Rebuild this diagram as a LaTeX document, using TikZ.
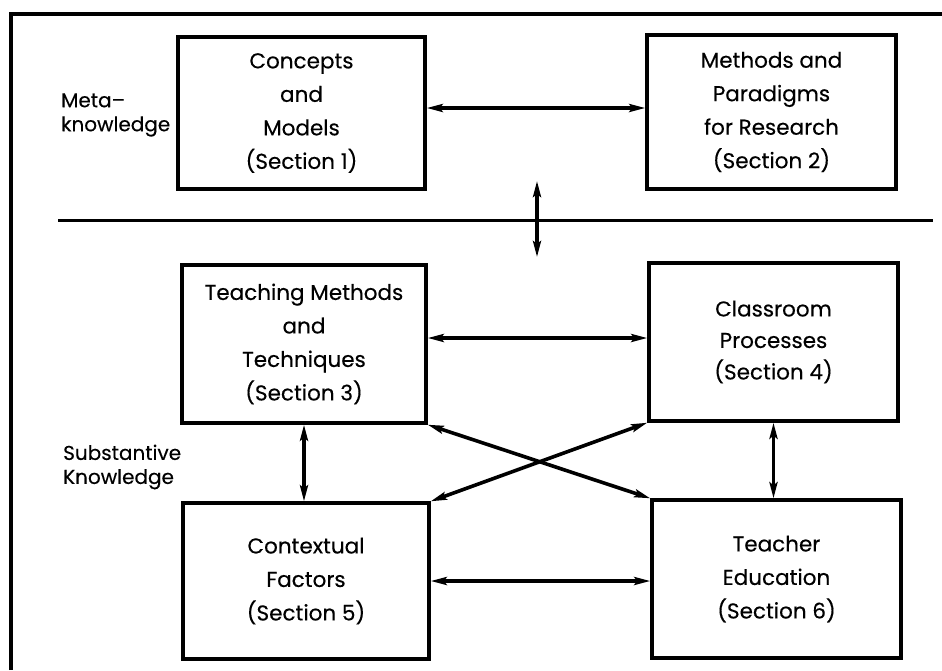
\documentclass[tikz,border=0pt]{standalone}
\usepackage{fontspec}
\setmainfont{Poppins}[FakeBold=0.3]
\usetikzlibrary{arrows.meta}
\tikzset{
  secbox/.style={draw, line width=3.4pt, align=center, inner sep=0pt,
    font=\fontsize{21.5}{33.5}\selectfont},
  sidelabel/.style={align=left, anchor=west, inner sep=0pt,
    font=\fontsize{20}{24}\selectfont},
  link/.style={line width=3.6pt,
    {Stealth[length=16pt,width=8pt,inset=3pt]}-{Stealth[length=16pt,width=8pt,inset=3pt]}},
  rule/.style={line width=3pt}
}
\begin{document}
\begin{tikzpicture}[x=1pt,y=-1pt]
\useasboundingbox (0,0) rectangle (942,670);
\fill[white] (0,0) rectangle (942,670);

% outer frame (left and top edges)
\draw[line width=3.4pt] (11,670) -- (11,14) -- (942,14);

% section boxes
\node[secbox, minimum width=247pt, minimum height=152pt] (b1) at (301.5,113)
  {Concepts\\and\\Models\\(Section 1)};
\node[secbox, minimum width=249pt, minimum height=154pt] (b2) at (771.5,112)
  {Methods and\\Paradigms\\for Research\\(Section 2)};
\node[secbox, minimum width=244pt, minimum height=158pt] (b3) at (304,344)
  {Teaching Methods\\and\\Techniques\\(Section 3)};
\node[secbox, minimum width=249pt, minimum height=158pt,
  font=\fontsize{21.5}{31.5}\selectfont] (b4) at (773.5,342)
  {Classroom\\Processes\\(Section 4)};
\node[secbox, minimum width=246pt, minimum height=156pt] (b5) at (306,581)
  {Contextual\\Factors\\(Section 5)};
\node[secbox, minimum width=249pt, minimum height=158pt] (b6) at (776.5,579)
  {Teacher\\Education\\(Section 6)};

% level labels
\node[sidelabel] (meta) at (61,115) {Meta--\\knowledge};
\node[sidelabel] (subst) at (63,467) {Substantive\\Knowledge};

% separator between the two levels
\coordinate (sepL) at (58,220);
\coordinate (sepR) at (933,220);
\draw[rule] (sepL) -- (sepR);

% link across the separator
\coordinate (lvlTop) at (537,181);
\coordinate (lvlBot) at (537,257);
\draw[link] (lvlTop) -- (lvlBot);

% links between sections
\draw[link] ([yshift=5pt]b1.east) -- ([yshift=5pt]b1.east -| b2.west);
\draw[link] ([yshift=6pt]b3.east) -- ([yshift=6pt]b3.east -| b4.west);
\draw[link] (b5.east) -- (b5.east -| b6.west);
\draw[link] (b3.south) -- (b3.south |- b5.north);
\draw[link] (b4.south) -- (b4.south |- b6.north);
\draw[link] (b3.south east) -- (b6.north west);
\draw[link] (b4.south west) -- (b5.north east);
\end{tikzpicture}
\end{document}
